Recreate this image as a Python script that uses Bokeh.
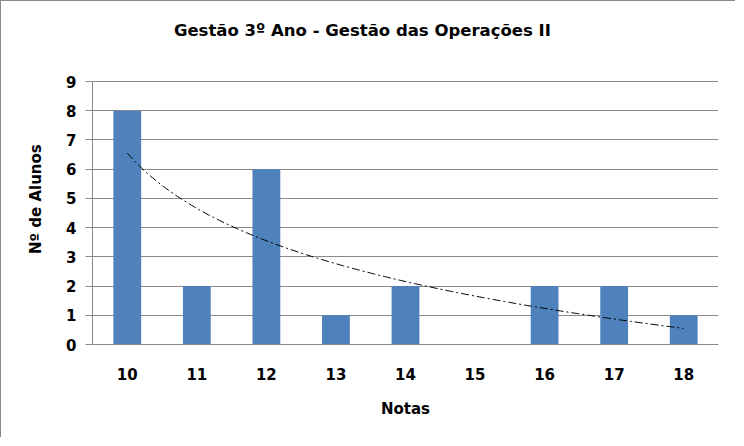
import numpy as np
from bokeh.plotting import figure
from bokeh.models import Range1d, FixedTicker, Label
from bokeh.embed import file_html
from bokeh.resources import INLINE

# ---- data ----
notas = [10, 11, 12, 13, 14, 15, 16, 17, 18]
alunos = [8, 2, 6, 1, 2, 0, 2, 2, 1]
y_ticks = [0, 1, 2, 3, 4, 5, 6, 7, 8, 9]
title_text = "Gestão 3º Ano - Gestão das Operações II"
x_title = "Notas"
y_title = "Nº de Alunos"

# logarithmic trendline (least squares on ln of category index), as in Excel
idx = np.arange(1, len(notas) + 1)
b, a = np.polyfit(np.log(idx), np.array(alunos, dtype=float), 1)
t = np.linspace(1, len(notas), 200)
trend_x = t + notas[0] - 1
trend_y = a + b * np.log(t)

FONT = "DejaVu Sans"
Y_TOP = 11.74      # frame extends above the axis to hold the chart title
TITLE_Y = 10.745
TITLE_X = 13.38
Y_TITLE_PAD = "\u00a0" * 10   # shifts the rotated axis title down to sit beside the axis

p = figure(width=735, height=437, output_backend="svg", toolbar_location=None,
           x_range=Range1d(notas[0] - 0.5, notas[-1] + 0.5), y_range=Range1d(0, Y_TOP),
           min_border_left=91, min_border_right=18, min_border_top=0, min_border_bottom=94,
           styles={"border-left": "1px solid #8a8a8a", "border-top": "1px solid #8a8a8a"})

p.vbar(x=notas, top=alunos, width=0.4, fill_color="#4F81BD", line_color=None)
p.line(trend_x, trend_y, line_color="black", line_width=1, line_dash="8 3 2 3")

p.title.visible = False
title = Label(x=TITLE_X, y=TITLE_Y, text=title_text,
              text_align="center", text_baseline="middle", text_font=FONT,
              text_font_size="16.5px", text_font_style="bold", text_color="black")
p.add_layout(title)

p.outline_line_color = None
p.xgrid.grid_line_color = None
p.ygrid.grid_line_color = "#8a8a8a"
p.ygrid.grid_line_width = 1
p.ygrid.ticker = FixedTicker(ticks=y_ticks)

p.xaxis.ticker = FixedTicker(ticks=notas)
p.yaxis.ticker = FixedTicker(ticks=y_ticks)
p.yaxis.bounds = (y_ticks[0], y_ticks[-1])
for ax in (p.xaxis[0], p.yaxis[0]):
    ax.axis_line_color = "#8a8a8a"
    ax.major_tick_line_color = "#8a8a8a"
    ax.minor_tick_line_color = None
    ax.major_label_text_font = FONT
    ax.major_label_text_font_size = "15px"
    ax.major_label_text_font_style = "bold"
    ax.major_label_text_color = "black"
    ax.axis_label_text_font = FONT
    ax.axis_label_text_font_size = "15px"
    ax.axis_label_text_font_style = "bold"
    ax.axis_label_text_color = "black"

p.xaxis.major_tick_out = 0
p.xaxis.major_tick_in = 0
p.xaxis.major_label_standoff = 23
p.xaxis.axis_label = x_title
p.xaxis.axis_label_standoff = 17

p.yaxis.major_tick_out = 7
p.yaxis.major_tick_in = 0
p.yaxis.major_label_standoff = 9
p.yaxis.axis_label = y_title + Y_TITLE_PAD
p.yaxis.axis_label_standoff = 18

open("out.html", "w").write(file_html(p, INLINE))
